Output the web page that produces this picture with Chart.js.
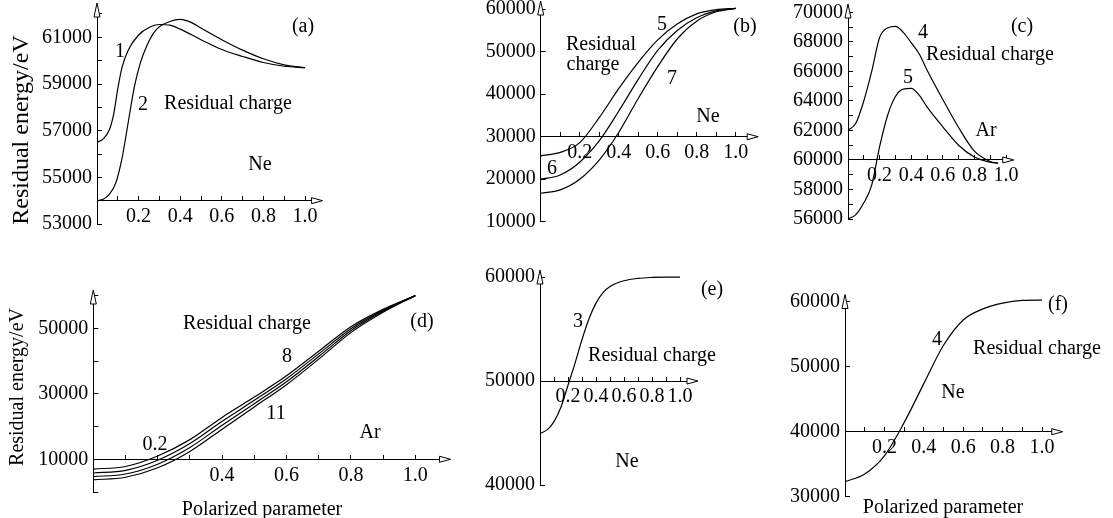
<!DOCTYPE html>
<html>
<head>
<meta charset="utf-8">
<script src="https://cdn.jsdelivr.net/npm/chart.js@4.4.0/dist/chart.umd.min.js"></script>
<style>
  body { margin:0; background:#fff; }
  #page { position:relative; width:1113px; height:518px; overflow:hidden; font-family:'Liberation Serif', 'Times New Roman', serif; }
  canvas { position:absolute; }
  .lbl { position:absolute; transform:translate(-50%,-50%); font-size:20px; color:#000; white-space:nowrap; line-height:1; }
  .ytl { position:absolute; transform:translate(-50%,-50%) rotate(-90deg); color:#000; white-space:nowrap; line-height:1; }
</style>
</head>
<body>
<div id="page"></div>
<script>
'use strict';

// (a) Ne, curves 1 and 2
let a1X = [0,0.03,0.06,0.08,0.1,0.12,0.15,0.2,0.25,0.3,0.35,0.4,0.5,0.6,0.7,0.8,0.9,1.0];
let a1Y = [56500,56650,57050,57700,58800,59700,60450,61100,61420,61550,61520,61350,60900,60480,60180,59920,59760,59700];
let a2X = [0,0.03,0.06,0.09,0.12,0.15,0.18,0.21,0.24,0.27,0.3,0.35,0.4,0.45,0.5,0.6,0.7,0.8,0.9,1.0];
let a2Y = [54000,54060,54280,54750,55800,57350,58900,59950,60650,61160,61450,61680,61770,61650,61400,60900,60450,60080,59820,59700];

// (b) Ne, curves 5, 6, 7
let bX = [0,0.1,0.2,0.3,0.4,0.5,0.6,0.7,0.8,0.9,1.0];
let b5 = [25500,26300,28600,34500,41300,47500,52800,56500,58900,59900,60200];
let b6 = [20000,21000,24000,29000,36000,43500,50300,55000,58000,59600,60200];
let b7 = [16700,17500,20000,24500,31000,39000,46500,53000,57200,59400,60200];

// (c) Ar, curves 4 and 5
let cX = [0,0.05,0.1,0.15,0.2,0.25,0.3,0.35,0.4,0.45,0.5,0.6,0.7,0.8,0.9,0.95];
let c4 = [62000,62500,64000,66000,68300,68950,69050,68650,67950,67200,66100,64100,62200,60600,59900,59780];
let c5 = [56000,56300,57100,58300,60900,63000,64300,64800,64850,64400,63600,62250,61000,60200,59850,59780];

// (d) Ar, curves 8..11
let dX = [0,0.1,0.2,0.3,0.4,0.5,0.6,0.7,0.8,0.9,1.0];
let d8  = [7000,7800,11000,16000,22800,29000,35500,43000,50500,55800,60000];
let d9  = [5800,6600,9700,14800,21600,28000,34600,42200,49900,55500,60000];
let d10 = [4700,5500,8500,13600,20400,27000,33700,41400,49300,55200,60000];
let d11 = [3700,4500,7400,12400,19200,26000,32800,40600,48700,54900,60000];

// (e) Ne, curve 3
let eX = [0,0.05,0.1,0.15,0.2,0.25,0.3,0.35,0.4,0.45,0.5,0.6,0.7,0.8,0.9,1.0];
let e3 = [44950,45300,46100,47500,49600,51700,54000,56000,57500,58500,59100,59650,59880,59970,60000,60000];

// (f) Ne, curve 4
let fX = [0,0.1,0.2,0.3,0.4,0.5,0.6,0.7,0.8,0.9,1.0];
let f4 = [32300,33500,36300,41400,47400,53300,57200,58900,59800,60200,60250];

// x ticks every 0.1 up to 1.0, labelled every 0.2
let xTickVals = [0,0.1,0.2,0.3,0.4,0.5,0.6,0.7,0.8,0.9,1.0];
let xTickLabels = ['','','0.2','','0.4','','0.6','','0.8','','1.0'];

let yTitle = 'Residual energy/eV';
let xTitle = 'Polarized parameter';
let tagText = 'Residual charge';

let page = document.getElementById('page');
let fontName = "'Liberation Serif', 'Times New Roman', serif";

let panels = [
  { L:97, T:7, B:224, unit:208, xMax:1.07, yMin:53000, yMax:62300, yStep:1000, labBase:53000, labEvery:2000,
    xAt:54000, yW:97, box:[0,0,345,250], hideX:[],
    series:[[a1X,a1Y],[a2X,a2Y]] },
  { L:540.7, T:5, B:221.7, unit:195, xMax:1.1, yMin:10000, yMax:61000, yStep:10000, labBase:10000, labEvery:10000,
    xAt:30000, yW:70.7, box:[470,0,300,240], hideX:[],
    series:[[bX,b5],[bX,b6],[bX,b7]] },
  { L:848, T:8, B:219, unit:158, xMax:1.03, yMin:56000, yMax:70300, yStep:1000, labBase:56000, labEvery:2000,
    xAt:60000, yW:70, box:[778,0,250,240], hideX:[],
    series:[[cX,c4],[cX,c5]] },
  { L:93.3, T:294, B:492, unit:322, xMax:1.1, yMin:0, yMax:60500, yStep:10000, labBase:10000, labEvery:20000,
    xAt:10000, yW:93.3, box:[0,260,470,258], hideX:['0.2'],
    series:[[dX,d8],[dX,d9],[dX,d10],[dX,d11]] },
  { L:540, T:274, B:485, unit:140, xMax:1.107, yMin:40000, yMax:60300, yStep:10000, labBase:40000, labEvery:10000,
    xAt:50000, yW:70, box:[470,260,250,258], hideX:[],
    series:[[eX,e3]] },
  { L:845, T:298.5, B:496.7, unit:197, xMax:1.09, yMin:30000, yMax:60500, yStep:10000, labBase:30000, labEvery:10000,
    xAt:40000, yW:70, box:[775,260,330,258], hideX:[],
    series:[[fX,f4]] }
];

let notes = [
  ['(a)',303,25], ['1',120,50], ['2',143,103], [tagText,228,102], ['Ne',260,163],
  ['(b)',745,25], ['5',662,23], ['Residual',601,43], ['charge',593,63], ['7',672,77], ['Ne',708,115], ['6',552,167],
  ['(c)',1022,25], ['4',923,31], [tagText,990,53], ['5',908,76], ['Ar',986,129],
  [tagText,247,322], ['(d)',422,320], ['8',287,355], ['11',276,412], ['Ar',370,431], ['0.2',155,443], [xTitle,262,508],
  ['(e)',712,288], ['3',578,320], [tagText,652,354], ['Ne',627,460],
  ['(f)',1058,303], ['4',937,338], [tagText,1037,347], ['Ne',953,391], [xTitle,943,506]
];

let arrowPlugin = {
  id:'arrows',
  afterDraw(chart) {
    let ctx = chart.ctx;
    let a = chart.chartArea;
    let yx = chart.scales.y.getPixelForValue(chart.options.scales.x.position.y);
    ctx.save();
    ctx.strokeStyle = '#000';
    ctx.fillStyle = '#fff';
    ctx.lineWidth = 1;
    ctx.beginPath();
    ctx.moveTo(a.right + 3, yx);
    ctx.lineTo(a.right - 8, yx - 3);
    ctx.lineTo(a.right - 8, yx + 3);
    ctx.closePath();
    ctx.fill();
    ctx.stroke();
    ctx.beginPath();
    ctx.moveTo(a.left, a.top - 4);
    ctx.lineTo(a.left - 3, a.top + 10);
    ctx.lineTo(a.left + 3, a.top + 10);
    ctx.closePath();
    ctx.fill();
    ctx.stroke();
    ctx.restore();
  }
};

function noPad(s) {
  s.paddingTop = 0;
  s.paddingBottom = 0;
  s.paddingLeft = 0;
  s.paddingRight = 0;
}

function makeChart(p){
  let cv = document.createElement('canvas');
  let cx = p.box[0], cy = p.box[1], cw = p.box[2], ch = p.box[3];
  cv.width = cw;
  cv.height = ch;
  cv.style.left = cx + 'px';
  cv.style.top = cy + 'px';
  page.appendChild(cv);
  let R = p.L + p.xMax * p.unit;
  let pad = { left: p.L - cx - p.yW, top: p.T - cy, right: cx + cw - R, bottom: cy + ch - p.B };

  let chart = new Chart(cv, {
    type:'line',
    data:{
      datasets: p.series.map(s => ({
        data: s[0].map((x, i) => ({ x: x, y: s[1][i] })),
        borderColor:'#000',
        borderWidth:1.2,
        pointRadius:0,
        fill:false,
        cubicInterpolationMode:'monotone'
      }))
    },
    options:{
      responsive:false,
      animation:false,
      events:[],
      layout:{ padding: pad, autoPadding:false },
      plugins:{ legend:{ display:false }, tooltip:{ enabled:false } },
      scales:{
        x:{
          type:'linear', min:0, max:p.xMax, position:{ y: p.xAt },
          border:{ display:true, color:'#000', width:1 },
          grid:{ drawOnChartArea:false, color:'#000', tickLength:-5 },
          afterBuildTicks: s => { s.ticks = xTickVals.map(v => ({ value: v })); },
          afterFit: noPad,
          ticks:{
            autoSkip:false, maxRotation:0, minRotation:0, padding:9, color:'#000',
            font:{ family:fontName, size:20 },
            callback: (v, i) => {
              let t = xTickLabels[i];
              return p.hideX.includes(t) ? '' : t;
            }
          }
        },
        y:{
          type:'linear', min:p.yMin, max:p.yMax, position:'left',
          afterFit: s => { s.width = p.yW; noPad(s); },
          afterBuildTicks: s => {
            let list = [];
            for (let v = p.yMin; v <= p.yMax; v += p.yStep) list.push({ value: v });
            s.ticks = list;
          },
          border:{ display:true, color:'#000', width:1 },
          grid:{ drawOnChartArea:false, color:'#000', tickLength:-5 },
          ticks:{
            autoSkip:false, padding:10, color:'#000',
            font:{ family:fontName, size:20 },
            callback: v => ((v - p.labBase) % p.labEvery === 0 && v >= p.labBase) ? String(v) : ''
          }
        }
      }
    },
    plugins:[arrowPlugin]
  });

  // nudge the padding until the plot area sits where the figure has it
  for (let k = 0; k < 2; k++) {
    let ca = chart.chartArea;
    pad.left += (p.L - cx) - ca.left;
    pad.top += (p.T - cy) - ca.top;
    pad.right += ca.right - (R - cx);
    pad.bottom += ca.bottom - (p.B - cy);
    chart.options.layout.padding = pad;
    chart.update();
  }
}

panels.forEach(makeChart);

notes.forEach(n => {
  let d = document.createElement('div');
  d.className = 'lbl';
  d.textContent = n[0];
  d.style.left = n[1] + 'px';
  d.style.top = n[2] + 'px';
  page.appendChild(d);
});

[[20,130,24],[16,387,20]].forEach(t => {
  let d = document.createElement('div');
  d.className = 'ytl';
  d.textContent = yTitle;
  d.style.left = t[0] + 'px';
  d.style.top = t[1] + 'px';
  d.style.fontSize = t[2] + 'px';
  page.appendChild(d);
});
</script>
</body>
</html>
